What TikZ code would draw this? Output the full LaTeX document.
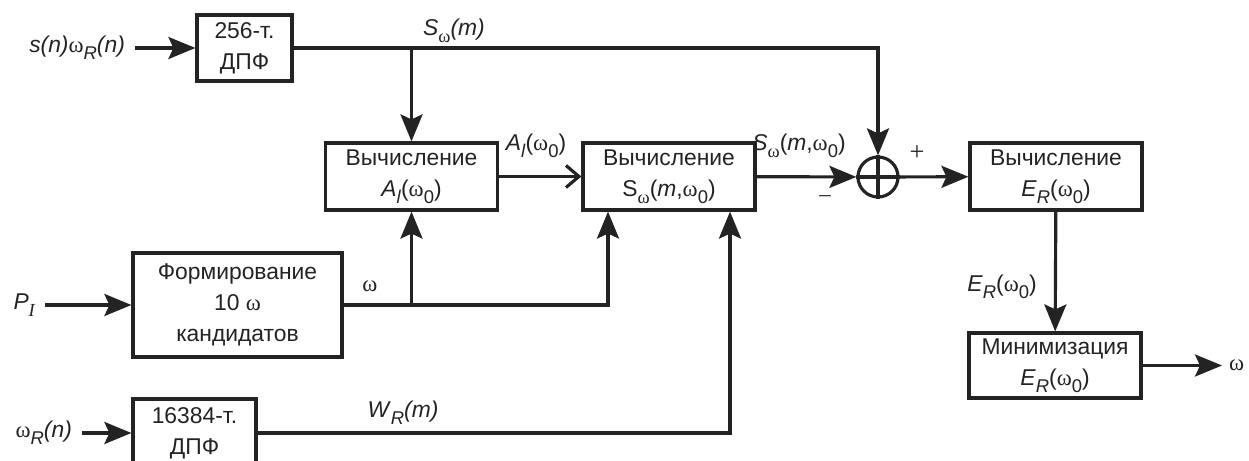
\documentclass[tikz,border=0pt]{standalone}
\usepackage{fontspec}
\setmainfont{Liberation Sans}
\newfontfamily\greekfont{Liberation Serif}
\usetikzlibrary{arrows.meta,positioning,calc}
\definecolor{graphite}{RGB}{35,35,35}
\newcommand{\om}{{\greekfont ω}}
\newcommand{\lo}[1]{\raisebox{-0.6ex}{\fontsize{10.5}{10.5}\selectfont #1}}
\tikzset{
  >={Stealth[length=5.4mm,width=4.4mm,inset=1mm]},
  block/.style={draw=graphite,line width=1.8pt,minimum width=#1,minimum height=13.4mm,
    align=center,font=\fontsize{13}{17.5}\selectfont,text=graphite,inner sep=1pt},
  block/.default=34.4mm,
  flow/.style={->,line width=1.8pt,draw=graphite},
  barb/.style={-{Straight Barb[length=2.6mm,width=4.4mm,line width=1.8pt]},line width=1.8pt,draw=graphite},
  sig/.style={font=\fontsize{13}{15}\selectfont,text=graphite,inner sep=1pt},
}

\begin{document}
\begin{tikzpicture}
  \useasboundingbox (0,0) rectangle (24.98,-9.22);
  % blocks
  \node[block=19mm,minimum height=13.2mm] (dft256) at (4.89,-0.96) {256-т.\\ДПФ};
  \node[block=41.8mm,minimum height=20.8mm] (cand) at (4.75,-6.1) {Формирование\\10 \om\\кандидатов};
  \node[block=24.6mm,minimum height=13.6mm] (dft16k) at (3.89,-8.66) {16384-т.\\ДПФ};
  \node[block] (calcA) at (8.23,-3.53) {Вычисление\\\textit{A}\lo{\textit{l}}(\om\lo{0})};
  \node[block] (calcS) at (13.38,-3.53) {Вычисление\\S\lo{\om}(\textit{m},\om\lo{0})};
  \node[circle,draw=graphite,line width=1.8pt,minimum size=8mm,inner sep=0pt] (sum) at (17.56,-3.54) {};
  \draw[graphite,line width=1.8pt] (sum.north) -- (sum.south) (sum.west) -- (sum.east);
  \node[block] (calcE) at (21.12,-3.53) {Вычисление\\\textit{E}\lo{\textit{R}}(\om\lo{0})};
  \node[block,minimum height=13mm] (minE) at (21.1,-7.31) {Минимизация\\\textit{E}\lo{\textit{R}}(\om\lo{0})};

  % inputs
  \foreach \n/\x/\y/\b/\t in {
    sig/2.7/-0.96/dft256/\textit{s(n)}\om\lo{\textit{R}}\textit{(n)},
    pit/0.9/-6.1/cand/\textit{P}\lo{{\greekfont\itshape I}},
    win/1.64/-8.66/dft16k/\om\lo{\textit{R}}\textit{(n)}}
  {
    \coordinate (in-\n) at (\x,\y);
    \node[sig,left=1.6mm of in-\n] (lbl-\n) {\t};
    \draw[flow] (in-\n) -- (\b);
  }

  % spectrum bus
  \draw[flow] (dft256.east) -| (sum.north);
  \draw[flow] (calcA.north |- dft256.east) -- (calcA.north);
  \node[sig] (lblSm) at (9.08,-0.62) {\textit{S}\lo{\om}\textit{(m)}};

  % candidate bus
  \draw[flow] (cand.east) -| (calcA.south);
  \draw[flow] (cand.east) -| ([xshift=-12.2mm]calcS.south);
  \node[sig] (lblOm) at (7.4,-5.72) {\om};
  \draw[flow] (dft16k.east) -| ([xshift=12.2mm]calcS.south);
  \node[sig] (lblW) at (8.06,-8.26) {\textit{W}\lo{\textit{R}}\textit{(m)}};

  % main chain
  \draw[barb] (calcA) -- (calcS);
  \node[sig] (lblA) at (10.72,-2.92) {\textit{A}\lo{\textit{l}}(\om\lo{0})};
  \draw[flow] (calcS) -- (sum);
  \node[sig] (lblSm0) at (15.98,-2.92) {\textit{S}\lo{\om}(\textit{m},\om\lo{0})};
  \node[sig,font=\fontsize{15}{15}\selectfont] (plus) at (18.34,-3.06) {\greekfont +};
  \node[sig] (minus) at (16.5,-3.98) {\greekfont –};
  \draw[flow] (sum) -- (calcE);
  \draw[flow] (calcE) -- (minE);
  \node[sig] (lblE) at (20.04,-5.74) {\textit{E}\lo{\textit{R}}(\om\lo{0})};
  \coordinate (out) at (24.44,-7.31);
  \draw[flow] (minE.east) -- (out);
  \node[sig,right=1mm of out] (lblOut) {\om};
\end{tikzpicture}
\end{document}
